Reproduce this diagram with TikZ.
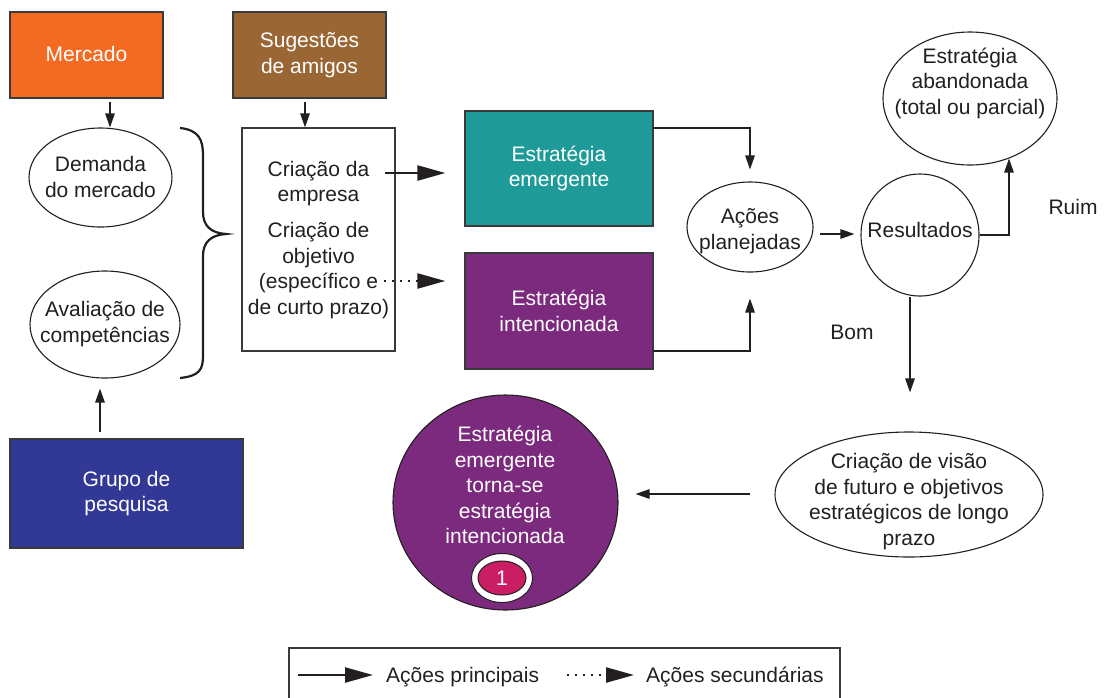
\documentclass[tikz,border=0pt]{standalone}
\usepackage{fontspec}
\setmainfont{Liberation Sans}
\usetikzlibrary{shapes.geometric,arrows.meta,calc}
\definecolor{cOrange}{HTML}{F36B22}
\definecolor{cBrown}{HTML}{9A6634}
\definecolor{cTeal}{HTML}{1E9B99}
\definecolor{cPurple}{HTML}{7B2A7D}
\definecolor{cBlue}{HTML}{313896}
\definecolor{cMagenta}{HTML}{CB1D63}
\definecolor{cLine}{HTML}{231F20}
\definecolor{cBorder}{HTML}{3A3A3A}
\begin{document}
\begin{tikzpicture}[x=1pt,y=-1pt,
  every node/.style={font=\fontsize{21}{25.5}\selectfont, text=cLine, align=center, inner sep=0pt},
  box/.style={draw=cBorder, line width=1.3pt, rectangle, text=white},
  oval/.style={draw=cLine, line width=1.1pt, ellipse, fill=white},
  arr/.style={draw=cLine, line width=1.3pt, -{Triangle[length=14pt,width=9.5pt]}},
  bigarr/.style={draw=cLine, line width=2.4pt, -{Triangle[length=28pt,width=15pt]}},
  dotarr/.style={draw=cLine, line width=2.4pt, dash pattern=on 2.4pt off 5.5pt, -{Triangle[length=28pt,width=15pt]}},
  bracestyle/.style={draw=cLine, line width=2.2pt}
]
\useasboundingbox (0,0) rectangle (1110,697);

% boxes
\node[box, fill=cOrange, minimum width=153pt, minimum height=86pt] (mercado) at (86.5,55) {};
\node[text=white] (mercadot) at (86.5,53.5) {Mercado};
\node[box, fill=cBrown, minimum width=153pt, minimum height=86pt] (sugestoes) at (309.5,55) {Sugestões\\de amigos};
\node[oval, minimum width=143pt, minimum height=99pt] (demanda) at (100.5,177.5) {};
\node (demandat) at (100.5,177) {Demanda\\do mercado};
\node[oval, minimum width=150pt, minimum height=107pt] (avaliacao) at (105,324.5) {};
\node (avaliacaot) at (105,324) {Avaliação de\\competências};
\node[box, fill=cBlue, minimum width=233pt, minimum height=109pt] (grupo) at (126.5,493.5) {Grupo de\\pesquisa};

\node[box, fill=white, minimum width=153pt, minimum height=223pt] (crbox) at (318.5,239.5) {};
\node (crtext) at (318.5,240) {Criação da\\empresa\\[10.5pt]Criação de\\objetivo\\(específico e\\de curto prazo)};

\node[box, fill=cTeal, minimum width=188pt, minimum height=115pt] (emergente) at (559,168.5) {Estratégia\\emergente};
\node[box, fill=cPurple, minimum width=188pt, minimum height=116pt] (intencionada) at (559,311) {Estratégia\\intencionada};

\node[oval, minimum width=126pt, minimum height=90pt] (acoes) at (750,227) {};
\node (acoest) at (750,231) {Ações\\planejadas};
\node[oval, minimum width=118pt, minimum height=122pt] (resultados) at (920,235) {};
\node (resultadost) at (920,230) {Resultados};
\node[oval, minimum width=174pt, minimum height=133pt] (abandonada) at (970,98.5) {};
\node (abandonadat) at (970,83) {Estratégia\\abandonada\\(total ou parcial)};
\node (ruim) at (1073,207) {Ruim};
\node (bom) at (852,332) {Bom};

\node[oval, minimum width=268pt, minimum height=125pt] (visao) at (909,494.5) {};
\node (visaot) at (909,501.5) {Criação de visão\\de futuro e objetivos\\estratégicos de longo\\prazo};

\node[ellipse, draw=cLine, line width=1.1pt, fill=cPurple, minimum width=225pt, minimum height=215pt] (torna) at (505.5,502.5) {};
\node[text=white] (tornatext) at (505,485) {Estratégia\\emergente\\torna-se\\estratégia\\intencionada};
\node[ellipse, draw=cLine, line width=1pt, fill=white, minimum width=61pt, minimum height=49pt] (badge) at (502,578) {};
\node[ellipse, draw=cLine, line width=1pt, fill=cMagenta, minimum width=48pt, minimum height=34pt] (badgein) at (502,578) {};
\node[text=white] (badget) at (502,578) {1};

% brace
\draw[bracestyle] (180,128) .. controls (199,130) and (203,140) .. (203,155) -- (203,212)
  .. controls (203,226) and (211,233) .. (226,234)
  .. controls (211,235) and (203,242) .. (203,256) -- (203,356)
  .. controls (203,370) and (199,376) .. (180,378);

% connectors
\coordinate (m1) at (110,102);
\draw[arr] (m1) -- (m1 |- demanda.north);
\coordinate (s1) at (305,102);
\draw[arr] (s1) -- (s1 |- crbox.north);
\coordinate (g1) at (100,432);
\draw[arr, shorten >=10pt] (g1) -- (g1 |- avaliacao.south);

\coordinate (b1) at (385,173);
\draw[bigarr, shorten >=19pt] (b1) -- (b1 -| emergente.west);
\coordinate (d1) at (384,281);
\draw[dotarr, shorten >=19pt] (d1) -- (d1 -| intencionada.west);

\coordinate (e1) at (653,128);
\draw[arr, shorten >=12pt] (e1) -| (acoes.north);
\coordinate (i1) at (653,351);
\draw[arr, shorten >=26pt] (i1) -| (acoes.south);

\coordinate (a1) at (820,234);
\draw[arr, shorten >=6pt] (a1) -- (a1 -| resultados.west);
\draw[arr] (resultados.east) -| (abandonada.-57);

\coordinate (r2) at (910,297);
\draw[arr, shorten >=39pt] (r2) -- (r2 |- visao.north);
\coordinate (v1) at (750,494);
\draw[arr, shorten >=17pt] (v1) -- (v1 -| torna.east);

% legend
\draw[line width=1.3pt, cBorder] (289,700) -- (289,648) -- (840,648) -- (840,700);
\coordinate (l1) at (298,675);
\coordinate (l2) at (373,675);
\draw[bigarr] (l1) -- (l2);
\node[anchor=base west] (lg1) at (386,682.5) {Ações principais};
\coordinate (l3) at (567,675);
\coordinate (l4) at (634,675);
\draw[dotarr] (l3) -- (l4);
\node[anchor=base west] (lg2) at (646,682.5) {Ações secundárias};
\end{tikzpicture}
\end{document}
